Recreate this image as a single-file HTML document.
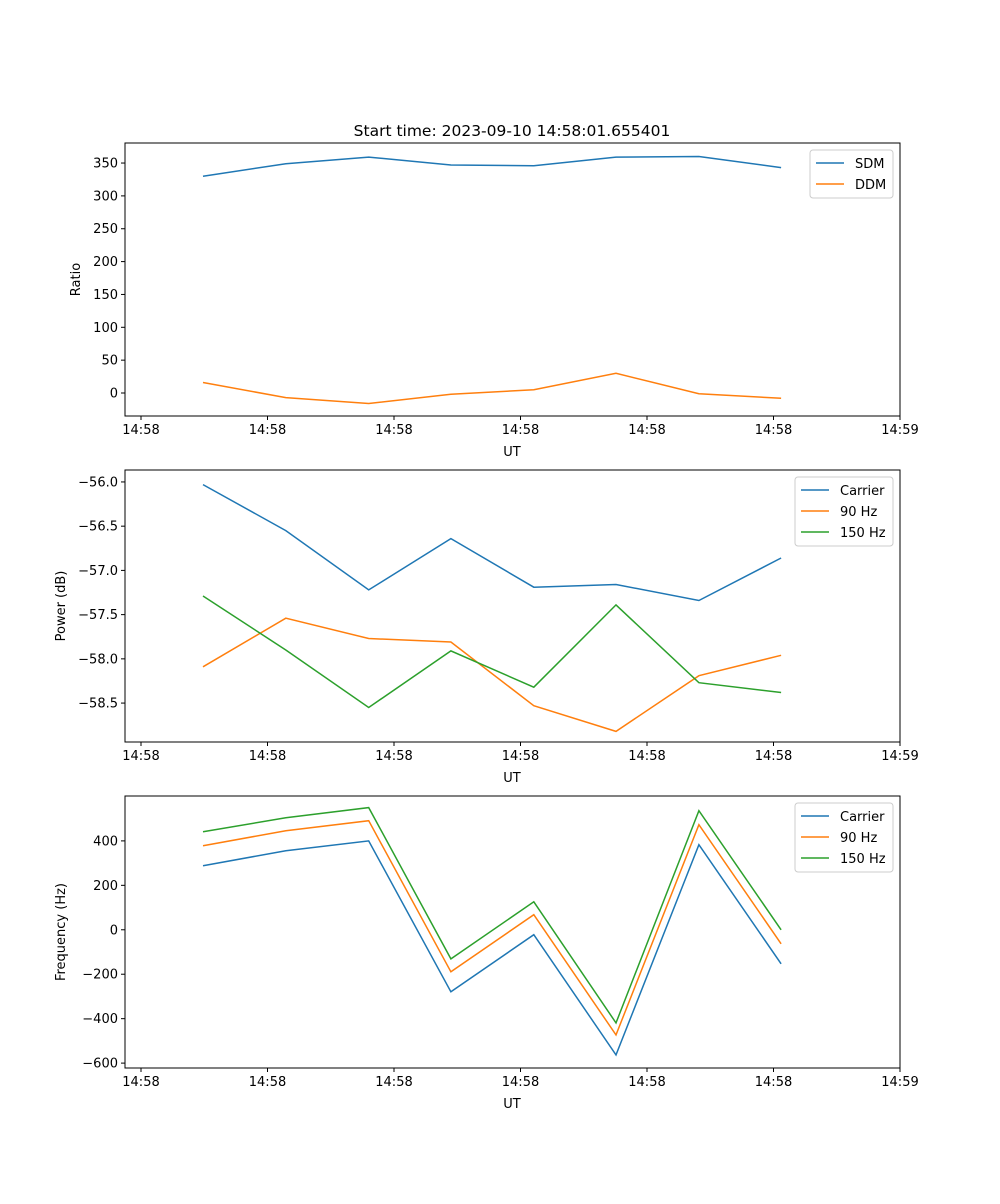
<!DOCTYPE html>
<html><head><meta charset="utf-8"><style>
body{margin:0;background:#fff;font-family:"DejaVu Sans","Liberation Sans",sans-serif;}
svg text{font-family:"DejaVu Sans","Liberation Sans",sans-serif;font-size:13px;fill:#000;}
</style></head><body>
<svg id="chart" width="1000" height="1200" xmlns="http://www.w3.org/2000/svg">
<text x="512" y="136" text-anchor="middle" style="font-size:15.5px">Start time: 2023-09-10 14:58:01.655401</text>
</svg>
<script>
const times=[48.98,50.29,51.6,52.9,54.21,55.51,56.82,58.12];
const xTicks=[48,50,52,54,56,58,60];
const xTickLabels=["14:58","14:58","14:58","14:58","14:58","14:58","14:59"];
const sdm=[330,349,359,347,346,359,360,343];
const ddm=[16,-7,-16,-2,5,30,-1,-8];
const powCarrier=[-56.03,-56.55,-57.22,-56.64,-57.19,-57.16,-57.34,-56.86];
const pow90=[-58.09,-57.54,-57.77,-57.81,-58.53,-58.82,-58.19,-57.96];
const pow150=[-57.29,-57.90,-58.55,-57.91,-58.32,-57.39,-58.27,-58.38];
const freqCarrier=[288,356,400,-279,-22,-563,383,-153];
const freq90=[378,446,491,-189,68,-473,473,-63];
const freq150=[441,504,550,-131,126,-419,536,0];
const ratioTicks=[0,50,100,150,200,250,300,350];
const powTicks=[-56.0,-56.5,-57.0,-57.5,-58.0,-58.5];
const freqTicks=[-600,-400,-200,0,200,400];

const svg=document.getElementById('chart');
const NS='http://www.w3.org/2000/svg';
const C=['#1f77b4','#ff7f0e','#2ca02c'];
function mk(tag,attrs,parent){const e=document.createElementNS(NS,tag);for(const k in attrs)e.setAttribute(k,attrs[k]);(parent||svg).appendChild(e);return e;}
const L=125,R=900,X0=47.747,X1=60;
function xs(t){return L+(t-X0)/(X1-X0)*(R-L);}
function panel(name,top,bot,ymin,ymax,yticks,fmt,ylabel,series,labels,legX,legW){
  const g=mk('g',{});
  
  
  const ys=v=>bot-(v-ymin)/(ymax-ymin)*(bot-top);
  series.forEach((s,i)=>{
    const p=mk('polyline',{points:s.map((v,j)=>xs(times[j]).toFixed(1)+','+ys(v).toFixed(1)).join(' '),fill:'none',stroke:C[i],'stroke-width':1.5},g);
    
    
  });
  const fr=mk('rect',{x:L,y:top,width:R-L,height:bot-top,fill:'none',stroke:'#000','stroke-width':1},g);
  
  
  xTicks.forEach((t,i)=>{
    const x=xs(t);
    mk('line',{x1:x,x2:x,y1:bot,y2:bot+4,stroke:'#000'},g);
    const tx=mk('text',{x:x,y:bot+18,'text-anchor':'middle'},g);tx.textContent=xTickLabels[i];
    
    
  });
  yticks.forEach(v=>{
    const y=ys(v);
    mk('line',{x1:L-4,x2:L,y1:y,y2:y,stroke:'#000'},g);
    const tx=mk('text',{x:L-7,y:y+4.5,'text-anchor':'end'},g);tx.textContent=fmt(v).replace('-','\u2212');
    
    
  });
  const xl=mk('text',{x:512,y:bot+40,'text-anchor':'middle'},g);xl.textContent='UT';
  
  
  const yx=name==='ratio'?80:65;
  const yl=mk('text',{x:yx,y:(top+bot)/2,'text-anchor':'middle',transform:'rotate(-90 '+yx+' '+(top+bot)/2+')'},g);yl.textContent=ylabel;
  
  
  const lg=mk('g',{},g);
  
  
  mk('rect',{x:legX,y:top+7,width:legW,height:labels.length*21+6,rx:3,fill:'#fff',stroke:'#ccc'},lg);
  labels.forEach((lb,i)=>{
    const y=top+20+i*21;
    mk('line',{x1:legX+6,x2:legX+34,y1:y,y2:y,stroke:C[i],'stroke-width':1.5},lg);
    const t=mk('text',{x:legX+45,y:y+5},lg);t.textContent=lb;
    
    
  });
}
panel('ratio',143,416,-35,380.5,ratioTicks,v=>String(v),'Ratio',[sdm,ddm],['SDM','DDM'],810,83);
panel('power',470,742,-58.94,-55.865,powTicks,v=>v.toFixed(1),'Power (dB)',[powCarrier,pow90,pow150],['Carrier','90 Hz','150 Hz'],795,98);
panel('frequency',796,1068,-622,602,freqTicks,v=>String(v),'Frequency (Hz)',[freqCarrier,freq90,freq150],['Carrier','90 Hz','150 Hz'],795,98);
</script>
</body></html>
